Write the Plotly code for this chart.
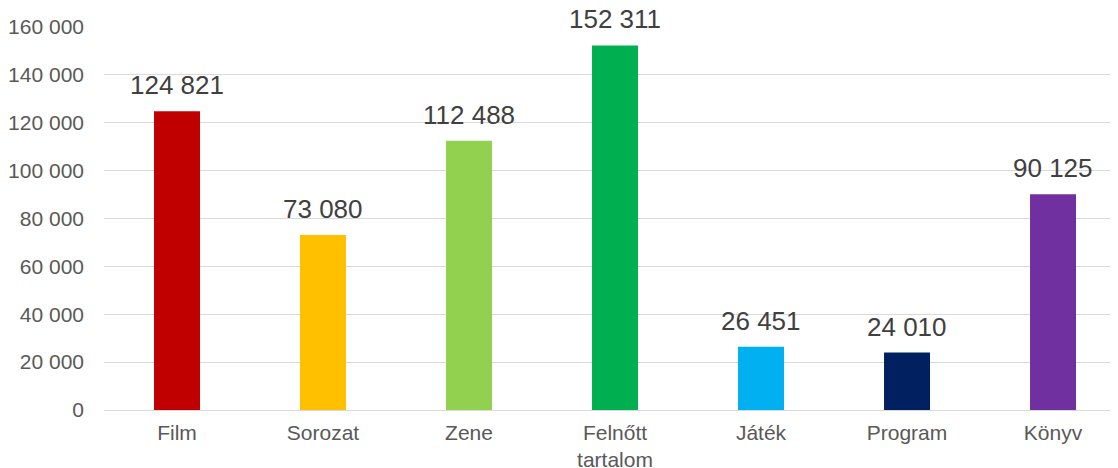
import plotly.graph_objects as go

categories = ["Film", "Sorozat", "Zene", "Felnőtt<br>tartalom", "Játék", "Program", "Könyv"]
values = [124821, 73080, 112488, 152311, 26451, 24010, 90125]
colors = ["#C00000", "#FFC000", "#92D050", "#00B050", "#00B0F0", "#002060", "#7030A0"]
y_ticks = [0, 20000, 40000, 60000, 80000, 100000, 120000, 140000, 160000]

def fmt(v):
    return f"{v:,}".replace(",", " ")

fig = go.Figure()
fig.add_trace(go.Bar(
    x=list(range(len(categories))),
    y=values,
    marker=dict(color=colors, line=dict(width=0)),
    width=0.315,
    hoverinfo="skip",
))

for i, v in enumerate(values):
    fig.add_annotation(
        x=i, y=v, text=fmt(v), showarrow=False,
        yanchor="bottom", yshift=9,
        font=dict(family="Liberation Sans, Arial", size=26, color="#404040"),
    )

fig.update_layout(
    width=1110, height=460,
    margin=dict(l=96, r=0, t=19, b=58),
    paper_bgcolor="white", plot_bgcolor="white",
    showlegend=False,
    font=dict(family="Liberation Sans, Arial", size=21, color="#595959"),
    xaxis=dict(
        tickmode="array", tickvals=list(range(len(categories))), ticktext=categories,
        range=[-0.5, 6.445], showgrid=False, zeroline=False, showline=False,
        ticks="", ticklabelstandoff=8, automargin=False,
        tickfont=dict(size=21, color="#595959"),
    ),
    yaxis=dict(
        range=[0, 160000], tickmode="array", tickvals=y_ticks,
        ticktext=[fmt(t) for t in y_ticks],
        showgrid=True, gridcolor="#D9D9D9", gridwidth=1,
        zeroline=True, zerolinecolor="#D9D9D9", zerolinewidth=1,
        showline=False, ticks="", ticklabelstandoff=19, automargin=False,
        tickfont=dict(size=21, color="#595959"),
    ),
)

fig.write_html("out.html")
